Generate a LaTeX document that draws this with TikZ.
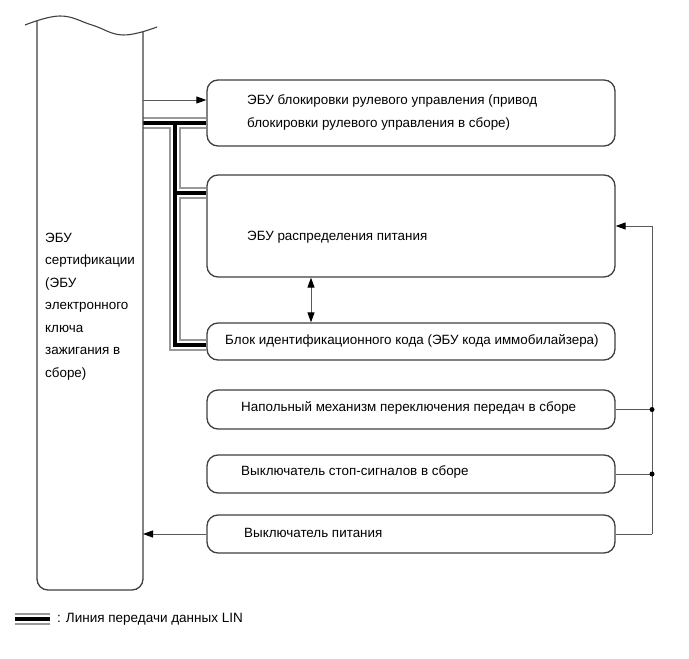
\documentclass[tikz,border=0pt]{standalone}
\usepackage{fontspec}
\setmainfont{Liberation Sans}
\usetikzlibrary{arrows.meta,calc}
\begin{document}
\begin{tikzpicture}[x=1pt,y=-1pt,
  box/.style={draw=black!75,line width=1.3pt,rounded corners=11pt,fill=white,inner sep=0pt},
  lbl/.style={anchor=west,inner sep=0pt,align=left,font=\fontsize{13.4}{22.5}\selectfont},
  conn/.style={draw=black!65,line width=1pt},
  arr/.style={conn,-{Triangle[length=10pt,width=7pt,color=black]}},
  darr/.style={conn,{Triangle[length=10pt,width=7pt,color=black]}-{Triangle[length=10pt,width=7pt,color=black]}},
  jdot/.style={circle,fill=black,inner sep=0pt,minimum size=5pt}]
\useasboundingbox (0,0) rectangle (689,659);
\fill[white] (0,0) rectangle (689,659);

% boxes
\node[box,minimum width=408pt,minimum height=66pt] (b1) at (411,113) {};
\node[box,minimum width=408pt,minimum height=102pt] (b2) at (411,226) {};
\node[box,minimum width=408pt,minimum height=37pt] (b3) at (411,341.5) {};
\node[box,minimum width=408pt,minimum height=39pt] (b4) at (411,409.5) {};
\node[box,minimum width=408pt,minimum height=38pt] (b5) at (411,474) {};
\node[box,minimum width=408pt,minimum height=38pt] (b6) at (411,534) {};

% labels
\node[lbl] (t1) at (247,112.5) {ЭБУ блокировки рулевого управления (привод\\блокировки рулевого управления в сборе)};
\node[lbl] (t2) at (247,237) {ЭБУ распределения питания};
\node[lbl] (t3) at (225,341) {Блок идентификационного кода (ЭБУ кода иммобилайзера)};
\node[lbl] (t4) at (241,408) {Напольный механизм переключения передач в сборе};
\node[lbl] (t5) at (241,472) {Выключатель стоп-сигналов в сборе};
\node[lbl] (t6) at (244,533) {Выключатель питания};
\node[lbl] (tecu) at (45,306.5) {ЭБУ\\сертификации\\(ЭБУ\\электронного\\ключа\\зажигания в\\сборе)};

% LIN bus (triple line)
\coordinate (busA) at (143,123);
\coordinate (busT) at (175,123);
\coordinate (busM) at (175,193);
\coordinate (busC) at (175,345);
\coordinate (legA) at (15,619);
\coordinate (legB) at (50,619);
\foreach \w/\c in {11.5/black!40,8.5/white,3.2/black}{
  \draw[line width=\w pt,draw=\c]
    (busA) -- (b1.west |- busA)
    (busT) -- (busC) -- (b3.west |- busC)
    (busM) -- (b2.west |- busM)
    (legA) -- (legB);
}

% ECU (certification)
\coordinate (ecuL) at (37,21);
\coordinate (ecuR) at (143,32);
\draw[black!75,line width=1.3pt,rounded corners=11pt]
  (ecuL) -- (37,590) -- (143,590) -- (ecuR);
\draw[black!75,line width=1.1pt]
  plot[smooth,tension=0.7] coordinates {(25,25) (60,16) (92,25) (123,35) (157,27)};

% connectors
\coordinate (e1) at (143,100);
\draw[arr] (e1) -- (b1.west |- e1);
\coordinate (r1) at (652,534);
\draw[conn] (b6.east) -- (r1);
\draw[arr] (r1) -- (b2.east -| r1) -- (b2.east);
\draw[conn] (b4.east) -- (b4.east -| r1) node[jdot] (d1) {};
\draw[conn] (b5.east) -- (b5.east -| r1) node[jdot] (d2) {};
\draw[arr] (b6.west) -- (b6.west -| ecuR);
\draw[darr] (b2.south -| 311,0) -- (b3.north -| 311,0);

% legend
\node[lbl,font=\fontsize{13.5}{16}\selectfont] (leg) at (57,619) {: Линия передачи данных LIN};
\end{tikzpicture}
\end{document}
